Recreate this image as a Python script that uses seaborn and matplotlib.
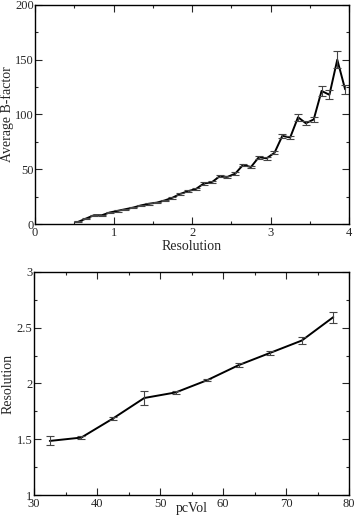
import numpy as np
import pandas as pd
import seaborn as sns
import matplotlib.pyplot as plt
from matplotlib.ticker import MultipleLocator

# top panel: resolution bins vs average B-factor
res_bins = [0.55, 0.65, 0.75, 0.85, 0.95, 1.05, 1.15, 1.25, 1.35, 1.45,
            1.55, 1.65, 1.75, 1.85, 1.95, 2.05, 2.15, 2.25, 2.35, 2.45,
            2.55, 2.65, 2.75, 2.85, 2.95, 3.05, 3.15, 3.25, 3.35, 3.45,
            3.55, 3.65, 3.75, 3.85, 3.95]
bfactor = [2, 5, 8, 8, 10.5, 12, 13.5, 15, 17, 18.5,
           19.5, 21.5, 24, 27.5, 30, 32, 37, 38, 43.5, 43,
           46, 54, 52, 61, 60, 65, 80.5, 79, 97.5, 92,
           95.5, 121.5, 118, 150, 123]
bfactor_err = [0.5, 0.6, 0.6, 0.6, 0.6, 0.6, 0.6, 0.6, 0.7, 0.7,
               0.7, 0.7, 0.8, 0.8, 0.8, 0.9, 1, 1, 1, 1,
               1.2, 1.2, 1.3, 1.4, 1.5, 1.5, 2, 1.5, 3, 2,
               2, 4.5, 4, 8, 4]

# bottom panel: pcVol bins vs resolution
pcvol = [32.5, 37.5, 42.5, 47.5, 52.5, 57.5, 62.5, 67.5, 72.5, 77.5]
resolution = [1.485, 1.515, 1.685, 1.87, 1.92, 2.03, 2.165, 2.275, 2.385, 2.595]
resolution_err = [0.04, 0.015, 0.012, 0.065, 0.012, 0.012, 0.015, 0.02, 0.03, 0.05]

sns.set_style("ticks")
plt.rcParams['font.family'] = ['Liberation Serif', 'DejaVu Serif']
plt.rcParams['font.size'] = 9

fig = plt.figure(figsize=(3.58, 5.24), dpi=100)
ax1 = fig.add_axes([0.098, 0.5725, 0.877, 0.418])
ax2 = fig.add_axes([0.095, 0.0553, 0.880, 0.4257])

top = pd.DataFrame({'res': res_bins, 'b': bfactor, 'err': bfactor_err})
bot = pd.DataFrame({'vol': pcvol, 'res': resolution, 'err': resolution_err})

sns.lineplot(data=top, x='res', y='b', ax=ax1, color='black', linewidth=1.4)
ax1.errorbar(top['res'], top['b'], yerr=top['err'], fmt='none',
             ecolor='#444444', elinewidth=0.8, capsize=2.8, capthick=0.8)

sns.lineplot(data=bot, x='vol', y='res', ax=ax2, color='black', linewidth=1.4)
ax2.errorbar(bot['vol'], bot['res'], yerr=bot['err'], fmt='none',
             ecolor='#444444', elinewidth=0.8, capsize=3.2, capthick=0.8)

ax1.set_xlim(0, 4)
ax1.set_ylim(0, 200)
ax1.xaxis.set_major_locator(MultipleLocator(1))
ax1.xaxis.set_minor_locator(MultipleLocator(0.5))
ax1.yaxis.set_major_locator(MultipleLocator(50))
ax1.yaxis.set_minor_locator(MultipleLocator(25))
ax1.set_xlabel('Resolution', fontsize=10)
ax1.set_ylabel('Average B-factor', fontsize=10)
ax1.xaxis.set_label_coords(0.5, -0.072)
ax1.yaxis.set_label_coords(-0.067, 0.5)

ax2.set_xlim(30, 80)
ax2.set_ylim(1, 3)
ax2.xaxis.set_major_locator(MultipleLocator(10))
ax2.xaxis.set_minor_locator(MultipleLocator(5))
ax2.yaxis.set_minor_locator(MultipleLocator(0.25))
ax2.set_yticks([1, 1.5, 2, 2.5, 3])
ax2.set_yticklabels(['1', '1.5', '2', '2.5', '3'])
ax2.set_xlabel('pcVol', fontsize=10)
ax2.set_ylabel('Resolution', fontsize=10)
ax2.xaxis.set_label_coords(0.5, -0.03)
ax2.yaxis.set_label_coords(-0.063, 0.5)

for ax in (ax1, ax2):
    ax.tick_params(which='both', direction='in', top=True, right=True,
                   width=0.8, labelsize=9)
    ax.tick_params(axis='y', pad=1)
    ax.tick_params(axis='x', pad=2)
    ax.tick_params(which='major', length=5)
    ax.tick_params(which='minor', length=2.5)
    for s in ax.spines.values():
        s.set_linewidth(1.0)
        s.set_color('black')

fig.savefig('out.png', dpi=100)
